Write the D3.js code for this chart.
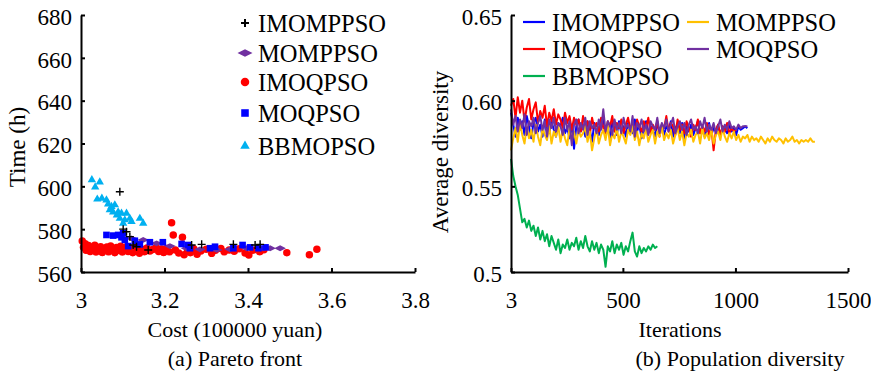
<!DOCTYPE html>
<html>
<head>
<meta charset="utf-8">
<script src="https://cdn.jsdelivr.net/npm/d3@7"></script>
<style>
  html, body { margin: 0; padding: 0; background: #fff; }
  svg text { font-family: "Liberation Serif", "Times New Roman", serif; fill: #000; }
</style>
</head>
<body>
<div id="chart"></div>
<script>
// ---------- data: (a) Pareto front, [cost, time] ----------
const imomppsoPts = [
  [3.093, 597.5], [3.101, 580.0], [3.109, 578.8], [3.117, 576.5], [3.125, 572.6],
  [3.133, 571.8], [3.161, 570.3], [3.265, 572.6], [3.289, 572.9], [3.365, 572.9],
  [3.417, 572.6], [3.429, 572.9]
];
const momppsoPts = [
  [3.121, 575.7], [3.149, 575.0], [3.181, 573.4], [3.213, 572.1], [3.253, 571.1],
  [3.285, 570.6], [3.325, 570.3], [3.357, 570.6], [3.397, 571.1], [3.437, 571.1],
  [3.453, 571.1], [3.477, 571.1]
];
const imoqpsoPts = [
  [3.003, 574.5], [3.006, 571.5], [3.010, 573.2], [3.012, 570.2], [3.018, 572.4],
  [3.022, 569.6], [3.028, 571.0], [3.033, 572.5], [3.036, 569.3], [3.042, 570.8],
  [3.047, 571.8], [3.051, 569.1], [3.056, 570.5], [3.062, 571.7], [3.066, 569.4],
  [3.071, 572.2], [3.075, 570.3], [3.081, 569.0], [3.085, 571.5], [3.090, 570.1],
  [3.095, 572.0], [3.099, 569.3], [3.104, 570.9], [3.109, 571.8], [3.113, 569.6],
  [3.118, 570.7], [3.124, 569.0], [3.129, 571.3], [3.134, 570.0], [3.140, 568.8],
  [3.146, 570.6], [3.152, 569.5], [3.158, 571.2], [3.165, 569.8], [3.172, 570.5],
  [3.180, 571.4], [3.186, 569.6], [3.193, 570.8], [3.198, 569.1], [3.205, 571.0],
  [3.212, 569.4], [3.217, 583.0], [3.221, 577.3], [3.226, 570.3], [3.234, 568.9],
  [3.243, 576.2], [3.247, 568.0], [3.255, 570.4], [3.262, 569.0], [3.270, 570.9],
  [3.278, 568.3], [3.287, 569.8], [3.300, 570.6], [3.313, 568.7], [3.322, 570.2],
  [3.335, 571.0], [3.343, 569.4], [3.355, 570.3], [3.367, 569.7], [3.379, 570.9],
  [3.393, 568.9], [3.402, 567.9], [3.412, 570.2], [3.428, 569.5], [3.438, 570.4],
  [3.493, 569.0], [3.547, 568.1], [3.565, 570.6]
];
const moqpsoPts = [
  [3.061, 577.3], [3.077, 577.0], [3.089, 577.3], [3.097, 576.2], [3.101, 578.1],
  [3.105, 575.0], [3.113, 572.1], [3.129, 574.6], [3.141, 572.9], [3.165, 573.9],
  [3.196, 573.9], [3.241, 573.1], [3.257, 572.6], [3.261, 571.1], [3.309, 571.1],
  [3.321, 571.8], [3.365, 571.1], [3.387, 572.6], [3.405, 571.5], [3.425, 571.1],
  [3.442, 571.5]
];
const bbmopsoPts = [
  [3.026, 603.0], [3.034, 599.7], [3.045, 602.0], [3.039, 594.0], [3.050, 594.4],
  [3.061, 593.6], [3.065, 591.7], [3.069, 589.0], [3.073, 590.5], [3.081, 591.3],
  [3.077, 588.0], [3.089, 588.0], [3.097, 587.4], [3.086, 586.6], [3.109, 587.4],
  [3.093, 585.0], [3.105, 584.3], [3.117, 585.0], [3.121, 583.5], [3.141, 585.0],
  [3.149, 582.7], [3.101, 582.7]
];

// ---------- data: (b) Population diversity, one value every 10 iterations from 3 ----------
const iterStep = 10;
const blueDiv = [
  0.593, 0.586, 0.579, 0.590, 0.583, 0.588, 0.580, 0.591, 0.585, 0.578,
  0.587, 0.590, 0.582, 0.586, 0.579, 0.589, 0.584, 0.581, 0.588, 0.583,
  0.579, 0.587, 0.585, 0.590, 0.581, 0.584, 0.578, 0.586, 0.572, 0.585,
  0.589, 0.582, 0.586, 0.579, 0.588, 0.583, 0.576, 0.587, 0.584, 0.580,
  0.586, 0.589, 0.581, 0.585, 0.578, 0.587, 0.583, 0.580, 0.588, 0.582,
  0.585, 0.579, 0.587, 0.584, 0.581, 0.589, 0.582, 0.586, 0.578, 0.584,
  0.588, 0.581, 0.585, 0.583, 0.579, 0.587, 0.582, 0.586, 0.580, 0.585,
  0.583, 0.588, 0.579, 0.584, 0.586, 0.581, 0.587, 0.578, 0.585, 0.582,
  0.586, 0.580, 0.584, 0.588, 0.581, 0.585, 0.579, 0.583, 0.587, 0.580,
  0.584, 0.582, 0.586, 0.579, 0.585, 0.583, 0.581, 0.586, 0.582, 0.584,
  0.580, 0.585, 0.583, 0.584, 0.585, 0.584
];
const redDiv = [
  0.597, 0.601, 0.590, 0.602, 0.593, 0.600, 0.588, 0.596, 0.601, 0.589,
  0.595, 0.599, 0.587, 0.594, 0.590, 0.597, 0.585, 0.593, 0.588, 0.595,
  0.586, 0.592, 0.589, 0.584, 0.593, 0.587, 0.591, 0.583, 0.590, 0.586,
  0.589, 0.582, 0.591, 0.585, 0.588, 0.580, 0.590, 0.584, 0.587, 0.582,
  0.590, 0.584, 0.581, 0.588, 0.585, 0.591, 0.582, 0.587, 0.584, 0.589,
  0.581, 0.586, 0.590, 0.583, 0.587, 0.580, 0.589, 0.585, 0.582, 0.588,
  0.584, 0.590, 0.581, 0.586, 0.583, 0.588, 0.579, 0.586, 0.584, 0.591,
  0.582, 0.587, 0.585, 0.580, 0.589, 0.583, 0.586, 0.581, 0.588, 0.584,
  0.579, 0.586, 0.583, 0.589, 0.581, 0.585, 0.582, 0.587, 0.580, 0.584,
  0.571, 0.583, 0.586, 0.580, 0.585, 0.582, 0.587, 0.581, 0.584, 0.582,
  0.583
];
const orangeDiv = [
  0.571, 0.578, 0.584, 0.576, 0.587, 0.580, 0.575, 0.585, 0.578, 0.583,
  0.576, 0.586, 0.579, 0.574, 0.584, 0.580, 0.577, 0.585, 0.575, 0.582,
  0.579, 0.585, 0.576, 0.583, 0.578, 0.574, 0.584, 0.577, 0.582, 0.575,
  0.583, 0.579, 0.581, 0.585, 0.576, 0.582, 0.571, 0.578, 0.584, 0.575,
  0.580, 0.583, 0.577, 0.585, 0.574, 0.581, 0.578, 0.584, 0.576, 0.582,
  0.579, 0.575, 0.583, 0.580, 0.585, 0.577, 0.582, 0.574, 0.581, 0.578,
  0.584, 0.576, 0.580, 0.583, 0.575, 0.582, 0.579, 0.585, 0.577, 0.581,
  0.578, 0.583, 0.575, 0.580, 0.584, 0.577, 0.582, 0.574, 0.581, 0.579,
  0.583, 0.576, 0.580, 0.582, 0.575, 0.584, 0.578, 0.581, 0.577, 0.583,
  0.575, 0.580, 0.582, 0.577, 0.584, 0.579, 0.576, 0.581, 0.578, 0.582,
  0.577, 0.580, 0.576, 0.579, 0.578, 0.580, 0.576, 0.579, 0.577, 0.578,
  0.576, 0.579, 0.577, 0.575, 0.578, 0.576, 0.579, 0.577, 0.576, 0.578,
  0.577, 0.575, 0.578, 0.576, 0.577, 0.579, 0.576, 0.577, 0.575, 0.577,
  0.576, 0.577, 0.576, 0.578, 0.576, 0.576
];
const purpleDiv = [
  0.595, 0.586, 0.591, 0.582, 0.589, 0.584, 0.592, 0.580, 0.588, 0.585,
  0.590, 0.581, 0.587, 0.591, 0.583, 0.588, 0.579, 0.589, 0.584, 0.590,
  0.582, 0.587, 0.585, 0.580, 0.590, 0.583, 0.588, 0.574, 0.586, 0.589,
  0.581, 0.587, 0.583, 0.590, 0.580, 0.588, 0.584, 0.586, 0.581, 0.589,
  0.583, 0.595, 0.582, 0.588, 0.585, 0.580, 0.589, 0.583, 0.587, 0.581,
  0.590, 0.584, 0.586, 0.582, 0.591, 0.579, 0.587, 0.584, 0.589, 0.582,
  0.586, 0.580, 0.588, 0.585, 0.583, 0.590, 0.581, 0.587, 0.584, 0.589,
  0.582, 0.586, 0.590, 0.581, 0.585, 0.588, 0.583, 0.587, 0.580, 0.586,
  0.589, 0.583, 0.585, 0.581, 0.588, 0.584, 0.590, 0.582, 0.586, 0.583,
  0.587, 0.581, 0.585, 0.589, 0.582, 0.586, 0.583, 0.588, 0.584, 0.585,
  0.583, 0.586, 0.584, 0.585, 0.585, 0.585
];
const greenDiv = [
  0.566, 0.556, 0.550, 0.545, 0.537, 0.529, 0.531, 0.526, 0.530, 0.524,
  0.527, 0.521, 0.526, 0.519, 0.524, 0.518, 0.522, 0.515, 0.521, 0.517,
  0.513, 0.519, 0.511, 0.516, 0.514, 0.519, 0.513, 0.517, 0.515, 0.520,
  0.513, 0.518, 0.514, 0.521, 0.515, 0.512, 0.518, 0.513, 0.517, 0.511,
  0.516, 0.513, 0.503, 0.515, 0.512, 0.518, 0.511, 0.516, 0.513, 0.517,
  0.510, 0.515, 0.512, 0.518, 0.523, 0.512, 0.509, 0.515, 0.511, 0.514,
  0.512, 0.515, 0.513, 0.516, 0.514, 0.515
];

// ---------- ticks & labels ----------
const costTicks = [3, 3.2, 3.4, 3.6, 3.8];
const timeTicks = [560, 580, 600, 620, 640, 660, 680];
const iterTicks = [3, 500, 1000, 1500];
const divTicks = [0.5, 0.55, 0.6, 0.65];
const divTickLabels = ["0.5", "0.55", "0.60", "0.65"];
const seriesNames = ["IMOMPPSO", "MOMPPSO", "IMOQPSO", "MOQPSO", "BBMOPSO"];

const colors = {
  IMOMPPSO: "#0000ff", MOMPPSO: "#ffc000", IMOQPSO: "#ff0000",
  MOQPSO: "#7030a0", BBMOPSO: "#00b050"
};

const W = 871, H = 380;
const svg = d3.select("#chart").append("svg").attr("width", W).attr("height", H);

// ---------- custom marker shapes ----------
const plusShape = {
  draw(ctx, size) {
    const r = Math.sqrt(size) / 2;
    ctx.moveTo(-r, 0); ctx.lineTo(r, 0);
    ctx.moveTo(0, -r); ctx.lineTo(0, r);
  }
};
const flatDiamond = {
  draw(ctx, size) {
    const w = Math.sqrt(size) * 0.75, h = w * 0.5;
    ctx.moveTo(-w, 0); ctx.lineTo(0, -h); ctx.lineTo(w, 0); ctx.lineTo(0, h); ctx.closePath();
  }
};

const markerStyle = {
  IMOMPPSO: { type: plusShape, size: 64, fill: "none", stroke: "#000", sw: 1.4 },
  MOMPPSO: { type: flatDiamond, size: 60, fill: "#7030a0", stroke: "none", sw: 0 },
  IMOQPSO: { type: d3.symbolCircle, size: 44, fill: "#ff0000", stroke: "none", sw: 0 },
  MOQPSO: { type: d3.symbolSquare, size: 44, fill: "#0000ff", stroke: "none", sw: 0 },
  BBMOPSO: { type: d3.symbolTriangle, size: 30, fill: "#00b0f0", stroke: "none", sw: 0 }
};

function styleAxis(g) {
  g.select(".domain").attr("stroke", "#000").attr("stroke-width", 2);
  g.selectAll(".tick line").attr("stroke", "#000").attr("stroke-width", 2);
  g.selectAll(".tick text").style("font-size", "23px");
}

// =============== (a) Pareto front ===============
const xA = d3.scaleLinear().domain([3, 3.8]).range([81, 415]);
const yA = d3.scaleLinear().domain([560, 680]).range([272, 15]);

const scatterData = {
  IMOMPPSO: imomppsoPts, MOMPPSO: momppsoPts, IMOQPSO: imoqpsoPts,
  MOQPSO: moqpsoPts, BBMOPSO: bbmopsoPts
};

// red first, crosses on top
["IMOQPSO", "MOMPPSO", "MOQPSO", "BBMOPSO", "IMOMPPSO"].forEach(name => {
  const st = markerStyle[name];
  svg.append("g").selectAll("path")
    .data(scatterData[name])
    .enter().append("path")
    .attr("transform", d => `translate(${xA(d[0])},${yA(d[1])})`)
    .attr("d", d3.symbol().type(st.type).size(st.size))
    .attr("fill", st.fill)
    .attr("stroke", st.stroke)
    .attr("stroke-width", st.sw);
});

svg.append("g")
  .attr("transform", "translate(0,272)")
  .call(d3.axisBottom(xA).tickValues(costTicks).tickSizeInner(-4).tickSizeOuter(0).tickPadding(20)
    .tickFormat(d3.format("")))
  .call(styleAxis);

svg.append("g")
  .attr("transform", "translate(81,0)")
  .call(d3.axisLeft(yA).tickValues(timeTicks).tickSizeInner(-4).tickSizeOuter(0).tickPadding(9))
  .call(styleAxis)
  .call(g => g.selectAll(".tick text").attr("dy", "0.4em"));

svg.append("text")
  .attr("transform", "translate(25,147) rotate(-90)")
  .attr("text-anchor", "middle")
  .style("font-size", "23px")
  .text("Time (h)");

svg.append("text")
  .attr("x", 235).attr("y", 337)
  .attr("text-anchor", "middle")
  .style("font-size", "22px")
  .text("Cost (100000 yuan)");

svg.append("text")
  .attr("x", 235).attr("y", 366)
  .attr("text-anchor", "middle")
  .style("font-size", "22px")
  .text("(a) Pareto front");

// scatter legend
const legA = [23, 53, 82, 113, 146];
seriesNames.forEach((name, i) => {
  const st = markerStyle[name];
  const legSize = name === "IMOMPPSO" ? 64 : name === "MOMPPSO" ? 100 : st.size * 1.3;
  svg.append("path")
    .attr("transform", `translate(245,${legA[i]})`)
    .attr("d", d3.symbol().type(st.type).size(legSize))
    .attr("fill", st.fill)
    .attr("stroke", st.stroke)
    .attr("stroke-width", name === "IMOMPPSO" ? 2 : st.sw);
  svg.append("text")
    .attr("x", 258).attr("y", legA[i] + 8.5)
    .style("font-size", "24.5px")
    .text(name);
});

// =============== (b) Population diversity ===============
const xB = d3.scaleLinear().domain([3, 1500]).range([511, 848]);
const yB = d3.scaleLinear().domain([0.5, 0.65]).range([272, 15]);

const lineGen = d3.line()
  .x((d, i) => xB(3 + i * iterStep))
  .y(d => yB(d));

const lineData = {
  IMOMPPSO: blueDiv, MOMPPSO: orangeDiv, IMOQPSO: redDiv,
  MOQPSO: purpleDiv, BBMOPSO: greenDiv
};

["BBMOPSO", "IMOMPPSO", "IMOQPSO", "MOMPPSO", "MOQPSO"].forEach(name => {
  svg.append("path")
    .datum(lineData[name])
    .attr("d", lineGen)
    .attr("fill", "none")
    .attr("stroke", colors[name])
    .attr("stroke-width", 2)
    .attr("stroke-linejoin", "round");
});

svg.append("g")
  .attr("transform", "translate(0,272)")
  .call(d3.axisBottom(xB).tickValues(iterTicks).tickSizeInner(-4).tickSizeOuter(0).tickPadding(20)
    .tickFormat(d3.format("")))
  .call(styleAxis);

svg.append("g")
  .attr("transform", "translate(511,0)")
  .call(d3.axisLeft(yB).tickValues(divTicks).tickSizeInner(-4).tickSizeOuter(0).tickPadding(9)
    .tickFormat((d, i) => divTickLabels[i]))
  .call(styleAxis)
  .call(g => g.selectAll(".tick text").attr("dy", "0.4em"));

svg.append("text")
  .attr("transform", "translate(448,152) rotate(-90)")
  .attr("text-anchor", "middle")
  .style("font-size", "23px")
  .text("Average diversity");

svg.append("text")
  .attr("x", 680).attr("y", 337)
  .attr("text-anchor", "middle")
  .style("font-size", "22px")
  .text("Iterations");

svg.append("text")
  .attr("x", 740).attr("y", 366)
  .attr("text-anchor", "middle")
  .style("font-size", "22px")
  .text("(b) Population diversity");

// line legend, two columns
const legB = [
  { name: "IMOMPPSO", x: 523, y: 22 }, { name: "MOMPPSO", x: 687, y: 22 },
  { name: "IMOQPSO", x: 523, y: 49 }, { name: "MOQPSO", x: 687, y: 49 },
  { name: "BBMOPSO", x: 523, y: 76 }
];
legB.forEach(d => {
  svg.append("line")
    .attr("x1", d.x).attr("x2", d.x + 22)
    .attr("y1", d.y).attr("y2", d.y)
    .attr("stroke", colors[d.name])
    .attr("stroke-width", 2.2);
  svg.append("text")
    .attr("x", d.x + 29).attr("y", d.y + 8.5)
    .style("font-size", "24.5px")
    .text(d.name);
});
</script>
</body>
</html>
